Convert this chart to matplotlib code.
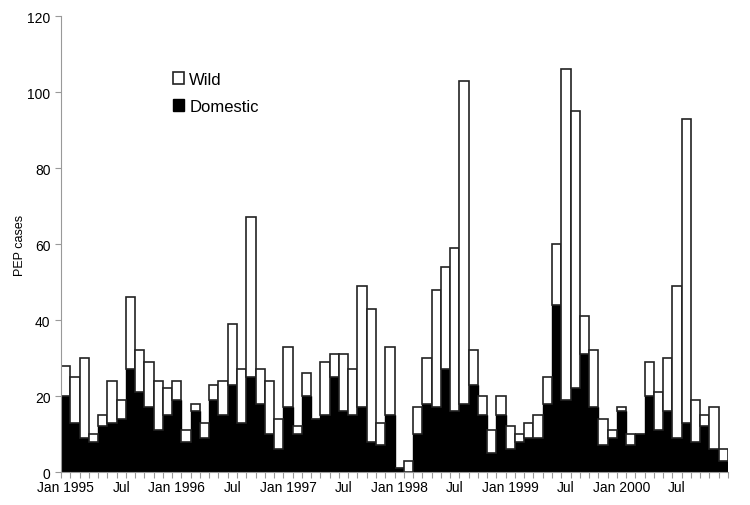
import matplotlib
matplotlib.use("Agg")
import matplotlib.pyplot as plt
import numpy as np

plt.rcParams['font.family'] = ['Liberation Sans', 'DejaVu Sans']

# monthly PEP cases, Jan 1995 - Dec 2000
total = [28, 25, 30, 10, 15, 24, 19, 46, 32, 29, 24, 22,
         24, 11, 18, 13, 23, 24, 39, 27, 67, 27, 24, 14,
         33, 12, 26, 14, 29, 31, 31, 27, 49, 43, 13, 33,
         1, 3, 17, 30, 48, 54, 59, 103, 32, 20, 11, 20,
         12, 10, 13, 15, 25, 60, 106, 95, 41, 32, 14, 11,
         17, 10, 10, 29, 21, 30, 49, 93, 19, 15, 17, 6]
domestic = [20, 13, 9, 8, 12, 13, 14, 27, 21, 17, 11, 15,
            19, 8, 16, 9, 19, 15, 23, 13, 25, 18, 10, 6,
            17, 10, 20, 14, 15, 25, 16, 15, 17, 8, 7, 15,
            1, 0, 10, 18, 17, 27, 16, 18, 23, 15, 5, 15,
            6, 8, 9, 9, 18, 44, 19, 22, 31, 17, 7, 9,
            16, 7, 10, 20, 11, 16, 9, 13, 8, 12, 6, 3]
wild = [t - d for t, d in zip(total, domestic)]
tick_labels = ['Jan 1995', 'Jul', 'Jan 1996', 'Jul', 'Jan 1997', 'Jul',
               'Jan 1998', 'Jul', 'Jan 1999', 'Jul', 'Jan 2000', 'Jul']

x = np.arange(len(total))

fig = plt.figure(figsize=(7.5, 5.06), dpi=100)
ax = fig.add_axes([0.0813, 0.0652, 0.8894, 0.9012])

ax.bar(x, domestic, width=1.0, color='black', edgecolor='black', linewidth=1.0, label='Domestic')
ax.bar(x, wild, bottom=domestic, width=1.0, color='white', edgecolor='#222222', linewidth=1.2, label='Wild')

ax.set_xlim(-0.5, len(total) - 0.5)
ax.set_ylim(0, 120)
ax.set_yticks(range(0, 121, 20))
ax.set_xticks(np.arange(0, len(total), 6))
ax.set_xticklabels(tick_labels)
ax.set_xticks(np.arange(-0.5, len(total), 1), minor=True)
ax.tick_params(axis='x', which='major', length=0, labelsize=10, pad=6)
ax.tick_params(axis='x', which='minor', length=4, color='#999999', width=0.8, direction='out')
ax.tick_params(axis='y', length=4, color='#999999', width=0.8, labelsize=10)

for s in ['top', 'right']:
    ax.spines[s].set_visible(False)
for s in ['left', 'bottom']:
    ax.spines[s].set_color('#999999')
    ax.spines[s].set_linewidth(0.8)

ax.set_ylabel('PEP cases', fontsize=9, labelpad=1)

handles, labels = ax.get_legend_handles_labels()
leg = ax.legend(handles[::-1], labels[::-1], loc='upper left', bbox_to_anchor=(0.145, 0.91),
                frameon=False, fontsize=12, handlelength=0.7, handleheight=0.7,
                handletextpad=0.3, labelspacing=0.7)

fig.savefig('out.png', dpi=100)
